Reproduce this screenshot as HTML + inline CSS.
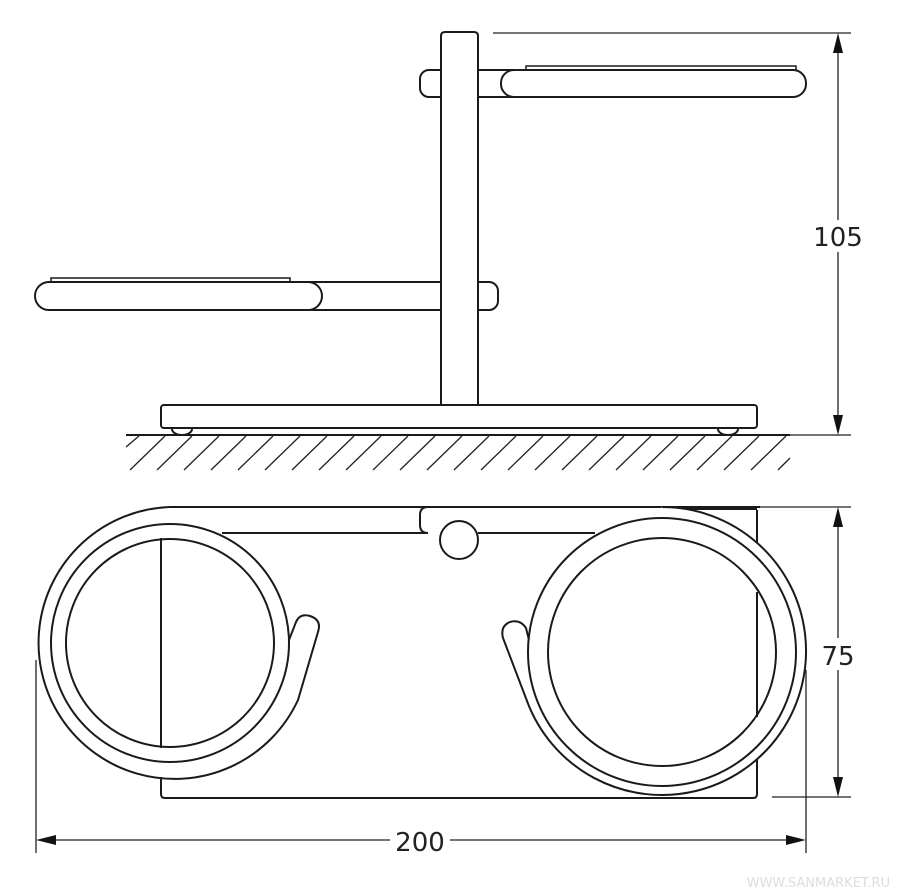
<!DOCTYPE html>
<html><head><meta charset="utf-8"><style>
html,body{margin:0;padding:0;background:#fff;}
svg{display:block;}
text{font-family:"DejaVu Sans","Liberation Sans",sans-serif;}
</style></head><body>
<svg width="899" height="895" viewBox="0 0 899 895" xmlns="http://www.w3.org/2000/svg">
<g fill="none" stroke="#1a1a1a" stroke-width="2">
<rect x="420" y="70" width="40" height="27" rx="9" fill="#fff"/>
<rect x="460" y="70" width="60" height="27" fill="#fff"/>
<rect x="526" y="66" width="270" height="4" fill="#fff" stroke-width="1.5"/>
<rect x="501" y="70" width="305" height="27" rx="13" fill="#fff"/>
<rect x="460" y="282" width="38" height="28" rx="9" fill="#fff"/>
<rect x="300" y="282" width="160" height="28" fill="#fff"/>
<rect x="51" y="278" width="239" height="4" fill="#fff" stroke-width="1.5"/>
<rect x="35" y="282" width="287" height="28" rx="14" fill="#fff"/>
<path d="M441,406 V36 Q441,32 445,32 H474 Q478,32 478,36 V406" fill="#fff"/>
<rect x="161" y="405" width="596" height="23" rx="3" fill="#fff"/>
<path d="M172,429 A10,6 0 0 0 192,429"/>
<path d="M718,429 A10,6 0 0 0 738,429"/>
<line x1="126" y1="435" x2="790" y2="435"/>
</g>
<g stroke="#222" stroke-width="1.3">
<line x1="126" y1="447" x2="139" y2="436"/>
<line x1="130" y1="470" x2="165" y2="436"/><line x1="157" y1="470" x2="192" y2="436"/>
<line x1="184" y1="470" x2="219" y2="436"/><line x1="211" y1="470" x2="246" y2="436"/>
<line x1="238" y1="470" x2="273" y2="436"/><line x1="265" y1="470" x2="300" y2="436"/>
<line x1="292" y1="470" x2="327" y2="436"/><line x1="319" y1="470" x2="354" y2="436"/>
<line x1="346" y1="470" x2="381" y2="436"/><line x1="373" y1="470" x2="408" y2="436"/>
<line x1="400" y1="470" x2="435" y2="436"/><line x1="427" y1="470" x2="462" y2="436"/>
<line x1="454" y1="470" x2="489" y2="436"/><line x1="481" y1="470" x2="516" y2="436"/>
<line x1="508" y1="470" x2="543" y2="436"/><line x1="535" y1="470" x2="570" y2="436"/>
<line x1="562" y1="470" x2="597" y2="436"/><line x1="589" y1="470" x2="624" y2="436"/>
<line x1="616" y1="470" x2="651" y2="436"/><line x1="643" y1="470" x2="678" y2="436"/>
<line x1="670" y1="470" x2="705" y2="436"/><line x1="697" y1="470" x2="732" y2="436"/>
<line x1="724" y1="470" x2="759" y2="436"/><line x1="751" y1="470" x2="786" y2="436"/>
<line x1="778" y1="470" x2="790" y2="458"/>
</g>
<g stroke="#222" stroke-width="1.3" fill="none">
<line x1="493" y1="33" x2="851" y2="33"/>
<line x1="790" y1="435" x2="851" y2="435"/>
<line x1="838" y1="50" x2="838" y2="418"/>
</g>
<path d="M838,33 L833,53 L843,53 Z M838,435 L833,415 L843,415 Z" fill="#111"/>
<rect x="812" y="220" width="52" height="32" fill="#fff"/>
<text x="838" y="246" font-size="26" text-anchor="middle" fill="#222">105</text>

<g fill="none" stroke="#1a1a1a" stroke-width="2">
<path d="M757,510 V794 Q757,798 753,798 H165 Q161,798 161,794 V777"/>
<line x1="161" y1="538" x2="161" y2="748"/>
<line x1="170" y1="507" x2="760" y2="507"/>
<path d="M222,533 H428 Q420,533 420,525 V515 Q420,507 428,507"/>
<line x1="478" y1="533" x2="595" y2="533"/>
<circle cx="459" cy="540" r="19" fill="#fff"/>
<line x1="682" y1="509" x2="757" y2="509"/>
<path d="M170,507 A136,136 0 1 0 298,700 L318,632 Q322,620 310,616 Q300,613 296,622 L289,640"/>
<circle cx="170" cy="643" r="119"/>
<circle cx="170" cy="643" r="104"/>
<path d="M662,507 A144,144 0 1 1 527,701 L503,638 Q500,626 510,622 Q520,619 526,628 L529,640" fill="#fff"/>
<circle cx="662" cy="652" r="134" fill="#fff"/>
<circle cx="662" cy="652" r="114" fill="#fff"/>
<line x1="757" y1="592" x2="757" y2="717"/>
</g>
<g stroke="#222" stroke-width="1.3" fill="none">
<line x1="760" y1="507" x2="851" y2="507"/>
<line x1="772" y1="797" x2="851" y2="797"/>
<line x1="838" y1="525" x2="838" y2="780"/>
<line x1="36" y1="660" x2="36" y2="853"/>
<line x1="806" y1="670" x2="806" y2="853"/>
<line x1="50" y1="840" x2="792" y2="840"/>
</g>
<path d="M838,507 L833,527 L843,527 Z M838,797 L833,777 L843,777 Z M36,840 L56,835 L56,845 Z M806,840 L786,835 L786,845 Z" fill="#111"/>
<rect x="816" y="638" width="44" height="32" fill="#fff"/>
<text x="838" y="665" font-size="26" text-anchor="middle" fill="#222">75</text>
<rect x="390" y="826" width="60" height="30" fill="#fff"/>
<text x="420" y="851" font-size="26" text-anchor="middle" fill="#222">200</text>
<text x="890" y="887" font-size="13" text-anchor="end" fill="#ddd">WWW.SANMARKET.RU</text>
</svg>
</body></html>
